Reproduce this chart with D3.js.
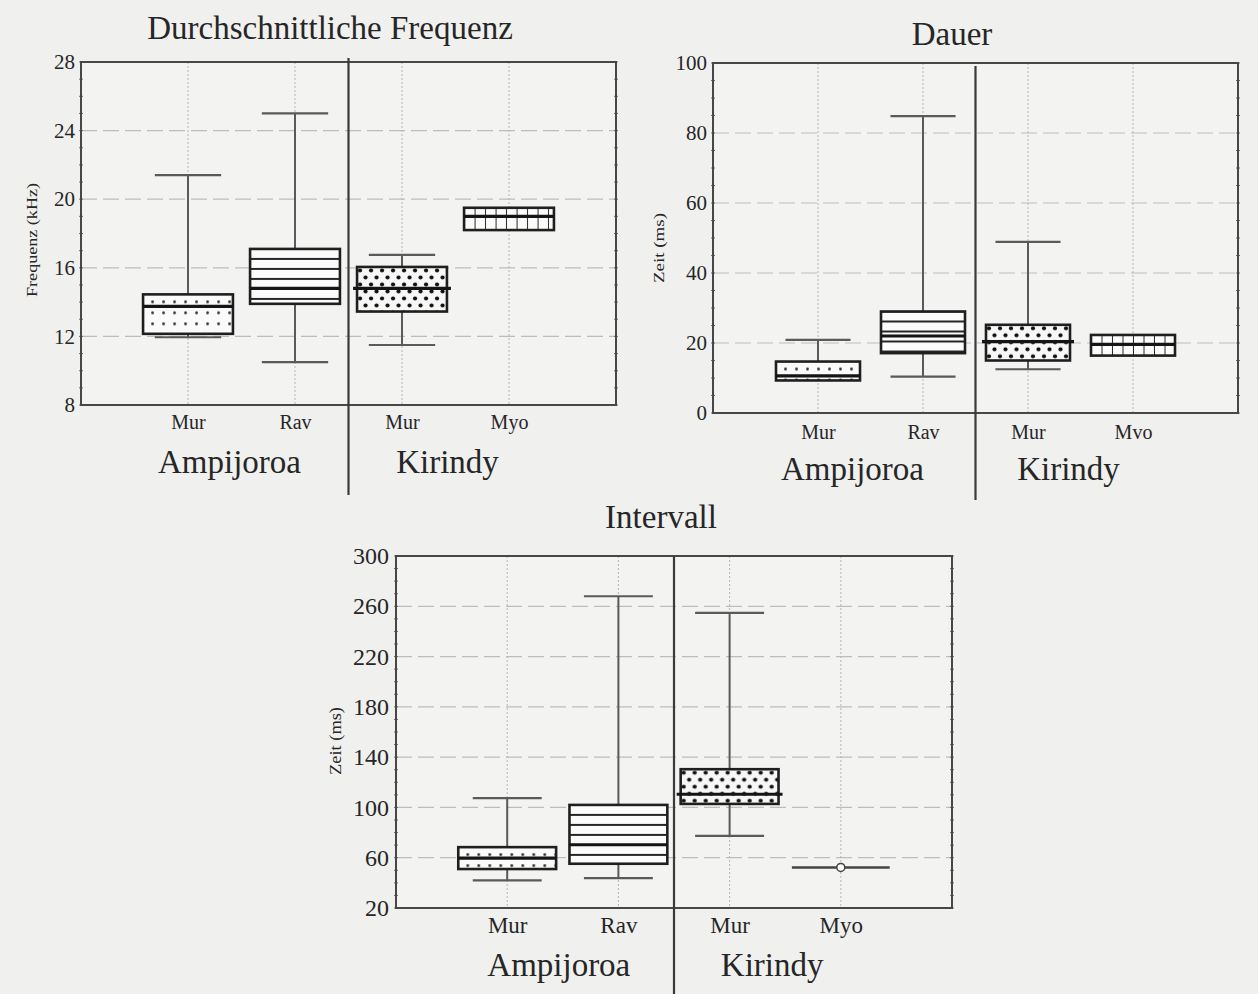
<!DOCTYPE html>
<html>
<head>
<meta charset="utf-8">
<script src="https://cdn.jsdelivr.net/npm/d3@7/dist/d3.min.js"></script>
<style>
  html, body { margin: 0; padding: 0; background: #f0f0ef; }
  svg { display: block; }
  text { font-family: "Liberation Serif", "DejaVu Serif", serif; fill: #262626; }
</style>
</head>
<body>
<svg id="chart" width="1258" height="994"></svg>
<script>
// ---- Data -------------------------------------------------------------
const groupNames = ["Ampijoroa", "Kirindy"];

// Durchschnittliche Frequenz (kHz)
const freqCategories = ["Mur", "Rav", "Mur", "Myo"];
const freqTicks = [8, 12, 16, 20, 24, 28];
const freqLow  = [11.95, 10.5, 11.5, 18.2];
const freqQ1   = [12.15, 13.9, 13.45, 18.2];
const freqMed  = [13.75, 14.8, 14.8, 19.0];
const freqQ3   = [14.45, 17.1, 16.05, 19.5];
const freqHigh = [21.4, 25.0, 16.75, 19.5];

// Dauer (ms)
const durCategories = ["Mur", "Rav", "Mur", "Mvo"];
const durTicks = [0, 20, 40, 60, 80, 100];
const durLow  = [9.3, 10.4, 12.5, 16.4];
const durQ1   = [9.3, 17.1, 15.0, 16.4];
const durMed  = [10.6, 22.0, 20.4, 19.6];
const durQ3   = [14.7, 29.0, 25.2, 22.3];
const durHigh = [20.9, 84.8, 48.9, 22.3];

// Intervall (ms)
const intCategories = ["Mur", "Rav", "Mur", "Myo"];
const intTicks = [20, 60, 100, 140, 180, 220, 260, 300];
const intLow  = [41.9, 43.8, 77.4, 52.3];
const intQ1   = [51.0, 55.2, 102.8, 52.3];
const intMed  = [59.7, 70.3, 110.5, 52.3];
const intQ3   = [68.4, 102.0, 130.4, 52.3];
const intHigh = [107.4, 268.0, 254.8, 52.3];

// Fill style for each of the four boxes (same order in every panel)
const boxFills = ["sparseDots", "hLines", "denseDots", "vGrid"];

// ---- Drawing ----------------------------------------------------------
const svg = d3.select("#chart");
const defs = svg.append("defs");
const whiskerInk = "#5a5a5a";
let patternCount = 0;

function makePattern(kind, x0, y0) {
  const id = "pat" + (patternCount++);
  let p;
  if (kind === "sparseDots") {
    p = defs.append("pattern").attr("id", id).attr("patternUnits", "userSpaceOnUse")
      .attr("x", x0 + 4).attr("y", y0 + 2).attr("width", 11).attr("height", 11);
    p.append("rect").attr("width", 11).attr("height", 11).attr("fill", "#fafafa");
    p.append("circle").attr("cx", 5.5).attr("cy", 5.5).attr("r", 1.4).attr("fill", "#333");
  } else if (kind === "hLines") {
    p = defs.append("pattern").attr("id", id).attr("patternUnits", "userSpaceOnUse")
      .attr("x", x0).attr("y", y0 + 1).attr("width", 10).attr("height", 10);
    p.append("rect").attr("width", 10).attr("height", 10).attr("fill", "#fbfbfb");
    p.append("rect").attr("y", 8).attr("width", 10).attr("height", 2).attr("fill", "#262626");
  } else if (kind === "denseDots") {
    p = defs.append("pattern").attr("id", id).attr("patternUnits", "userSpaceOnUse")
      .attr("x", x0).attr("y", y0).attr("width", 11).attr("height", 14);
    p.append("rect").attr("width", 11).attr("height", 14).attr("fill", "#f7f7f7");
    p.append("circle").attr("cx", 3).attr("cy", 3.5).attr("r", 2.1).attr("fill", "#111");
    p.append("circle").attr("cx", 8.5).attr("cy", 10.5).attr("r", 2.1).attr("fill", "#111");
  } else {
    p = defs.append("pattern").attr("id", id).attr("patternUnits", "userSpaceOnUse")
      .attr("x", x0 + 1).attr("y", y0).attr("width", 10.5).attr("height", 10);
    p.append("rect").attr("width", 10.5).attr("height", 10).attr("fill", "#fbfbfb");
    p.append("rect").attr("x", 9.5).attr("width", 2).attr("height", 10).attr("fill", "#262626");
  }
  return "url(#" + id + ")";
}

function drawPanel(cfg) {
  const g = svg.append("g");
  const y = d3.scaleLinear().domain(d3.extent(cfg.ticks)).range([cfg.bottom, cfg.top]);
  const x = d3.scalePoint().domain(d3.range(cfg.categories.length))
    .range([cfg.left, cfg.right]).padding(1);
  const step = x.step();
  const boxW = step * cfg.boxRatio;
  const capW = step * 0.62;

  // plot background
  g.append("rect").attr("x", cfg.left).attr("y", cfg.top)
    .attr("width", cfg.right - cfg.left).attr("height", cfg.bottom - cfg.top)
    .attr("fill", "#f3f3f2");

  // horizontal dashed grid
  g.selectAll(".hgrid").data(cfg.ticks.slice(1, -1)).join("line")
    .attr("x1", cfg.left).attr("x2", cfg.right)
    .attr("y1", d => y(d)).attr("y2", d => y(d))
    .attr("stroke", "#bdbdbd").attr("stroke-width", 1.2)
    .attr("stroke-dasharray", "16,6");

  // vertical dotted grid at categories
  g.selectAll(".vgrid").data(x.domain()).join("line")
    .attr("x1", d => x(d)).attr("x2", d => x(d))
    .attr("y1", cfg.top).attr("y2", cfg.bottom)
    .attr("stroke", "#b5b5b5").attr("stroke-width", 1)
    .attr("stroke-dasharray", "2,2");

  // minor ticks along the left and right edges
  const minor = d3.range(cfg.ticks[0], cfg.ticks[cfg.ticks.length - 1] + 1e-9, cfg.minorStep);
  [cfg.left, cfg.right].forEach((ex, i) => {
    g.selectAll(null).data(minor).join("line")
      .attr("x1", ex - 2).attr("x2", ex + 2)
      .attr("y1", d => y(d)).attr("y2", d => y(d))
      .attr("stroke", "#6f6f6f").attr("stroke-width", 1);
  });

  // frame
  g.append("rect").attr("x", cfg.left).attr("y", cfg.top)
    .attr("width", cfg.right - cfg.left).attr("height", cfg.bottom - cfg.top)
    .attr("fill", "none").attr("stroke", "#474747").attr("stroke-width", 2);

  // y axis labels
  const yAxis = d3.axisLeft(y).tickValues(cfg.ticks).tickSize(0).tickPadding(cfg.tickPad);
  const ya = g.append("g").attr("transform", `translate(${cfg.left},0)`).call(yAxis);
  ya.select(".domain").remove();
  ya.selectAll("text").style("font-size", cfg.tickFont + "px")
    .style("font-family", '"Liberation Serif", serif').attr("fill", "#262626");

  // x axis category labels
  const xAxis = d3.axisBottom(x).tickFormat(i => cfg.categories[i]).tickSize(0).tickPadding(0);
  const xa = g.append("g").attr("transform", `translate(0,${cfg.catY})`).call(xAxis);
  xa.select(".domain").remove();
  xa.selectAll("text").attr("dy", 0).style("font-size", cfg.catFont + "px")
    .style("font-family", '"Liberation Serif", serif').attr("fill", "#262626");

  // separator between the two localities
  const sepX = (x(1) + x(2)) / 2;
  g.append("line").attr("x1", sepX).attr("x2", sepX)
    .attr("y1", cfg.sepTop).attr("y2", cfg.sepBottom)
    .attr("stroke", "#3a3a3a").attr("stroke-width", 2.2);

  // locality labels
  [[0, 1], [2, 3]].forEach((pair, i) => {
    g.append("text")
      .attr("x", (x(pair[0]) + x(pair[1])) / 2 + cfg.groupShift[i])
      .attr("y", cfg.groupY).attr("text-anchor", "middle")
      .style("font-size", cfg.groupFont + "px").text(groupNames[i]);
  });

  // title
  g.append("text").attr("x", cfg.titleX).attr("y", cfg.titleY)
    .attr("text-anchor", "middle").style("font-size", cfg.titleFont + "px").text(cfg.title);

  // y axis title
  g.append("text")
    .attr("transform", `translate(${cfg.yLabelX},${(cfg.top + cfg.bottom) / 2 + cfg.yLabelShift}) rotate(-90)`)
    .attr("text-anchor", "middle").style("font-size", cfg.yLabelFont + "px")
    .attr("textLength", cfg.yLabelLen).attr("lengthAdjust", "spacingAndGlyphs")
    .text(cfg.yLabel);

  // boxes
  cfg.categories.forEach((c, i) => {
    const cx = x(i);
    const yHi = y(cfg.high[i]), yQ3 = y(cfg.q3[i]), yMed = y(cfg.med[i]);
    const yQ1 = y(cfg.q1[i]), yLo = y(cfg.low[i]);
    const bx = cx - boxW / 2;

    // whiskers
    if (cfg.high[i] > cfg.q3[i]) {
      g.append("line").attr("x1", cx).attr("x2", cx).attr("y1", yHi).attr("y2", yQ3)
        .attr("stroke", whiskerInk).attr("stroke-width", 2);
      g.append("line").attr("x1", cx - capW / 2).attr("x2", cx + capW / 2)
        .attr("y1", yHi).attr("y2", yHi).attr("stroke", whiskerInk).attr("stroke-width", 2.2);
    }
    if (cfg.low[i] < cfg.q1[i]) {
      g.append("line").attr("x1", cx).attr("x2", cx).attr("y1", yQ1).attr("y2", yLo)
        .attr("stroke", whiskerInk).attr("stroke-width", 2);
      g.append("line").attr("x1", cx - capW / 2).attr("x2", cx + capW / 2)
        .attr("y1", yLo).attr("y2", yLo).attr("stroke", whiskerInk).attr("stroke-width", 2.2);
    }

    if (yQ1 - yQ3 < 1) {
      // degenerate box: a single line with the median marker
      g.append("line").attr("x1", bx).attr("x2", bx + boxW).attr("y1", yMed).attr("y2", yMed)
        .attr("stroke", "#444").attr("stroke-width", 2.5);
      g.append("circle").attr("cx", cx).attr("cy", yMed).attr("r", 4)
        .attr("fill", "#fafafa").attr("stroke", "#444").attr("stroke-width", 1.5);
      return;
    }

    g.append("rect").attr("x", bx).attr("y", yQ3).attr("width", boxW).attr("height", yQ1 - yQ3)
      .attr("fill", makePattern(boxFills[i], bx, yQ3))
      .attr("stroke", "#1f1f1f").attr("stroke-width", 2.6);
    const ext = boxFills[i] === "denseDots" ? 4 : 0;
    g.append("line").attr("x1", bx - ext).attr("x2", bx + boxW + ext)
      .attr("y1", yMed).attr("y2", yMed)
      .attr("stroke", "#151515").attr("stroke-width", 3.2);
  });
}

drawPanel({
  title: "Durchschnittliche Frequenz", titleX: 330, titleY: 39, titleFont: 33,
  yLabel: "Frequenz (kHz)", yLabelX: 37, yLabelShift: 6.5, yLabelFont: 14, yLabelLen: 114,
  left: 81, right: 616, top: 62, bottom: 405,
  ticks: freqTicks, minorStep: 1, categories: freqCategories,
  low: freqLow, q1: freqQ1, med: freqMed, q3: freqQ3, high: freqHigh,
  boxRatio: 0.84, tickFont: 21, tickPad: 6, catFont: 20, catY: 429,
  groupFont: 33, groupY: 473, groupShift: [-12, -8],
  sepTop: 58, sepBottom: 495
});

drawPanel({
  title: "Dauer", titleX: 952, titleY: 45, titleFont: 33,
  yLabel: "Zeit (ms)", yLabelX: 664, yLabelShift: 10, yLabelFont: 15, yLabelLen: 70,
  left: 713, right: 1238, top: 63, bottom: 413,
  ticks: durTicks, minorStep: 5, categories: durCategories,
  low: durLow, q1: durQ1, med: durMed, q3: durQ3, high: durHigh,
  boxRatio: 0.8, tickFont: 21, tickPad: 6, catFont: 20, catY: 439,
  groupFont: 33, groupY: 480, groupShift: [-18, -12],
  sepTop: 66, sepBottom: 500
});

drawPanel({
  title: "Intervall", titleX: 661, titleY: 528, titleFont: 33,
  yLabel: "Zeit (ms)", yLabelX: 341, yLabelShift: 9, yLabelFont: 16, yLabelLen: 68,
  left: 396, right: 952, top: 556, bottom: 908,
  ticks: intTicks, minorStep: 10, categories: intCategories,
  low: intLow, q1: intQ1, med: intMed, q3: intQ3, high: intHigh,
  boxRatio: 0.88, tickFont: 24, tickPad: 7, catFont: 23, catY: 933,
  groupFont: 33, groupY: 976, groupShift: [-4, -13],
  sepTop: 556, sepBottom: 994
});
</script>
</body>
</html>
